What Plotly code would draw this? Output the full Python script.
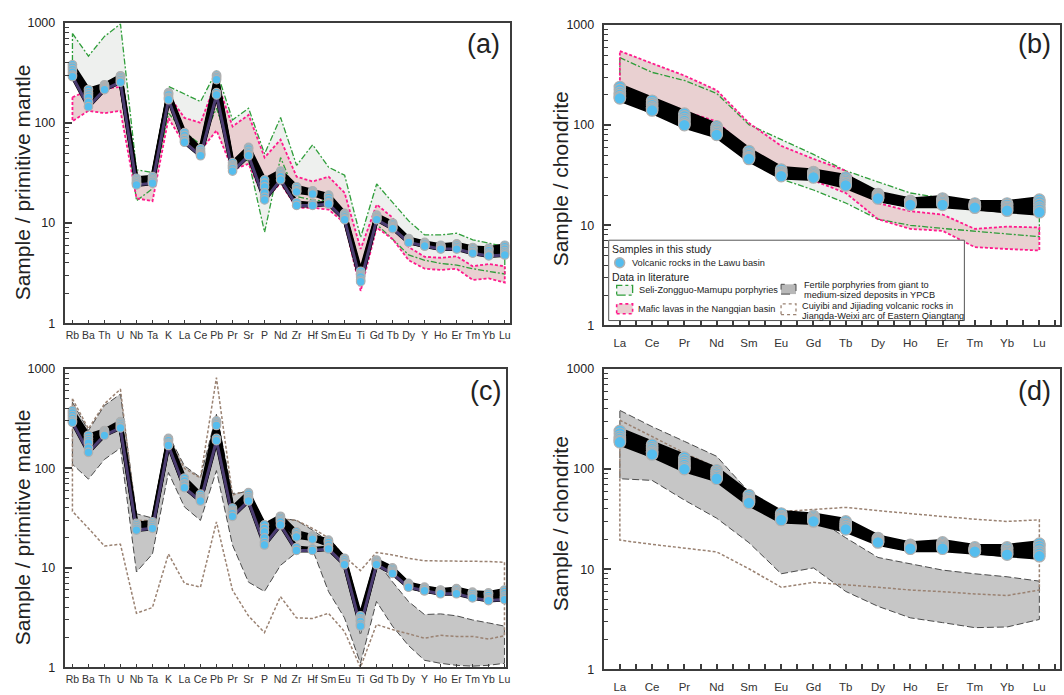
import plotly.graph_objects as go

W, H = 1064, 695
FONT = "Arial, Liberation Sans, sans-serif"

# ---------------- DATA ----------------
spider_elements = ["Rb", "Ba", "Th", "U", "Nb", "Ta", "K", "La", "Ce", "Pb", "Pr", "Sr", "P", "Nd",
                   "Zr", "Hf", "Sm", "Eu", "Ti", "Gd", "Tb", "Dy", "Y", "Ho", "Er", "Tm", "Yb", "Lu"]
ree_elements = ["La", "Ce", "Pr", "Nd", "Sm", "Eu", "Gd", "Tb", "Dy", "Ho", "Er", "Tm", "Yb", "Lu"]

# Samples in this study (primitive-mantle normalised)
pm_sample1 = [380, 215, 240, 295, 28, 29, 200, 80, 55, 300, 40, 57, 27, 33, 23, 21, 19, 12.5, 3.3, 12, 10, 7.0, 6.4, 6.0, 6.2, 5.7, 5.6, 6.0]
pm_sample2 = [360, 200, 235, 290, 27, 28, 195, 75, 52, 290, 38, 55, 25, 32, 22, 20.5, 18.5, 12.2, 3.1, 11.8, 9.8, 6.8, 6.3, 5.9, 6.1, 5.6, 5.5, 5.8]
pm_sample3 = [340, 190, 230, 280, 26, 27, 190, 70, 50, 280, 37, 52, 23, 31, 21, 20, 18, 12, 3.0, 11.5, 9.5, 6.7, 6.2, 5.8, 6.0, 5.5, 5.3, 5.5]
pm_sample4 = [320, 180, 225, 270, 25, 26, 180, 68, 49, 270, 36, 50, 20, 30, 20.5, 19.5, 17, 11.5, 2.9, 11.2, 9.2, 6.6, 6.0, 5.7, 5.8, 5.3, 5.0, 5.2]
pm_sample5 = [300, 160, 220, 260, 25, 26, 175, 65, 48, 200, 35, 48, 18, 29, 16, 15.5, 16, 11, 2.7, 11, 9.0, 6.5, 5.9, 5.6, 5.6, 5.1, 4.8, 5.0]
pm_sample6 = [290, 145, 215, 255, 24, 25, 170, 64, 47, 190, 33, 47, 17, 27, 15, 15, 15.5, 10.8, 2.6, 10.8, 8.8, 6.4, 5.9, 5.5, 5.5, 5.0, 4.7, 4.8]

# Samples in this study (chondrite normalised)
ch_sample1 = [240, 175, 130, 97, 55, 36, 34, 30, 20.5, 17.5, 18.5, 16.5, 16.5, 18]
ch_sample2 = [225, 165, 122, 93, 52, 34, 33, 28.5, 20, 17, 18, 16, 16, 17]
ch_sample3 = [210, 158, 115, 90, 50, 33, 32, 27.5, 19.5, 16.8, 17.5, 15.8, 15.3, 16]
ch_sample4 = [200, 150, 110, 86, 48, 32, 31, 26.5, 19, 16.5, 17, 15.5, 14.8, 15]
ch_sample5 = [190, 145, 104, 83, 47, 31.5, 30.5, 26, 18.8, 16.2, 16.5, 15.2, 14.3, 14.3]
ch_sample6 = [185, 140, 100, 80, 46, 31, 30, 25, 18.5, 16, 16, 15, 14, 13.5]

# Seli-Zongguo-Mamupu porphyries (range)
seli_pm_upper = [780, 464, 729, 970, 34, 32, 231, 195, 163, 331, 107, 140, 49, 113, 37.6, 60.5, 36, 30, 7.2, 24.5, 16, 10.5, 7.6, 7.6, 7.9, 6.8, 6.3, 5.8]
seli_pm_lower = [300, 150, 220, 260, 16.7, 22, 125, 80, 61, 140, 43.6, 42, 8.1, 45, 18.4, 17, 16.5, 10.9, 2.8, 9.7, 6.9, 4.8, 4.25, 3.95, 3.8, 3.5, 3.3, 3.1]
seli_ch_upper = [472, 336, 279, 207, 101, 72, 51, 35, 27, 21, 18.7, 17, 16, 17]
seli_ch_lower = [190, 140, 100, 80, 45, 29, 22.5, 16.7, 11.5, 10, 9.3, 8.6, 8.2, 7.7]

# Mafic lavas in the Nangqian basin (range)
nangqian_pm_upper = [180, 211, 220, 228, 28, 25, 189, 112, 100, 265, 92, 120, 45, 68, 29, 26, 29, 20, 5.5, 15.3, 11.3, 5.75, 4.6, 4.5, 4.65, 3.7, 3.9, 3.7]
nangqian_pm_lower = [104, 132, 125, 132, 17.7, 16.5, 111, 61, 53, 84, 34, 39, 17, 25, 14.2, 14.2, 13.6, 10, 2.1, 9.0, 6.9, 4.25, 3.5, 3.4, 3.5, 2.7, 2.8, 2.55]
nangqian_ch_upper = [548, 415, 312, 223, 105, 62, 46, 35, 16.7, 13.8, 12.8, 9.2, 9.7, 9.5]
nangqian_ch_lower = [249, 178, 137, 109, 55, 35.5, 28, 21, 11.5, 9.2, 8.8, 6.05, 5.8, 5.6]

# Fertile porphyries from giant to medium-sized deposits in YPCB (range)
ypcb_pm_upper = [462, 240, 428, 558, 35, 31.7, 217, 106, 81, 350, 56, 58, 29, 31.6, 30, 24, 18.6, 13.3, 2.1, 11.8, 7.25, 4.6, 3.4, 3.45, 3.3, 3.0, 2.8, 2.6]
ypcb_pm_lower = [110, 78, 123, 160, 9.1, 13.8, 91, 41, 30, 95, 17, 7.2, 5.8, 10.6, 14.3, 15.4, 5.8, 3.15, 1.1, 4.6, 2.6, 1.66, 1.18, 1.1, 1.05, 1.03, 1.05, 1.1]
ypcb_ch_upper = [385, 265, 189, 134, 59, 37.6, 33.6, 20.6, 13.1, 11.3, 9.8, 9.0, 8.4, 7.6]
ypcb_ch_lower = [80, 77, 49, 32.3, 18.4, 9.0, 10.3, 6.0, 4.26, 3.27, 2.93, 2.61, 2.65, 3.15]

# Cuiyibi and Jijiading volcanic rocks, Jiangda-Weixi arc (range)
cuiyibi_pm_upper = [500, 250, 445, 625, 30, 30, 200, 100, 80, 815, 54, 60, 26, 31, 30, 25, 20, 13, 9.4, 14.3, 13.5, 12.5, 11.8, 11.8, 11.8, 11.8, 11.6, 11.4]
cuiyibi_pm_lower = [37, 25, 16.6, 17.3, 3.5, 4.0, 13.8, 7.0, 6.4, 29, 6.0, 3.3, 2.24, 5.15, 3.15, 3.1, 3.5, 2.3, 1.0, 2.7, 2.4, 2.16, 1.97, 2.1, 2.05, 2.05, 1.93, 2.08]
cuiyibi_ch_upper = [307, 211, 145, 103, 53, 37.6, 39.6, 41.4, 38.4, 36.2, 33.6, 31.6, 30, 31.1]
cuiyibi_ch_lower = [19.5, 17.7, 16.2, 14.9, 10.1, 6.6, 7.4, 7.0, 6.6, 6.2, 5.97, 5.66, 5.46, 6.2]

pm_samples = [pm_sample1, pm_sample2, pm_sample3, pm_sample4, pm_sample5, pm_sample6]
ch_samples = [ch_sample1, ch_sample2, ch_sample3, ch_sample4, ch_sample5, ch_sample6]

# ---------------- STYLES ----------------
GREEN = "#2f9e3a"
GREEN_FILL = "#eef0ee"
PINK = "#ff1a8c"
PINK_FILL = "#e9d0d1"
GREY_LINE = "#4a4a4a"
GREY_FILL = "#c6c6c6"
BROWN = "#9a8272"
BLUE = "#55bdee"
MK_EDGE = "#b0b0b0"
PURPLE = "#4b3c70"
AXIS = "#3c3c3c"

fig = go.Figure()


def poly(upper, lower):
    n = len(upper)
    xs = list(range(n)) + list(range(n - 1, -1, -1)) + [0]
    ys = list(upper) + list(reversed(lower)) + [upper[0]]
    return xs, ys


def add_fill(upper, lower, color, ax):
    xs, ys = poly(upper, lower)
    fig.add_trace(go.Scatter(x=xs, y=ys, mode="lines", fill="toself", fillcolor=color,
                             line=dict(width=0), hoverinfo="skip", showlegend=False,
                             xaxis="x" + ax, yaxis="y" + ax))


def add_outline(upper, lower, color, dash, width, ax):
    xs, ys = poly(upper, lower)
    fig.add_trace(go.Scatter(x=xs, y=ys, mode="lines",
                             line=dict(color=color, dash=dash, width=width),
                             hoverinfo="skip", showlegend=False,
                             xaxis="x" + ax, yaxis="y" + ax))


def add_samples(samples, ax, lw, msize, purple):
    for s in samples:
        fig.add_trace(go.Scatter(x=list(range(len(s))), y=s, mode="lines",
                                 line=dict(color="black", width=lw),
                                 hoverinfo="skip", showlegend=False,
                                 xaxis="x" + ax, yaxis="y" + ax))
    if purple:
        s = samples[-1]
        fig.add_trace(go.Scatter(x=list(range(len(s))), y=s, mode="lines",
                                 line=dict(color=PURPLE, width=3),
                                 hoverinfo="skip", showlegend=False,
                                 xaxis="x" + ax, yaxis="y" + ax))
    for s in samples:
        fig.add_trace(go.Scatter(x=list(range(len(s))), y=s, mode="markers",
                                 marker=dict(color=BLUE, size=msize, line=dict(color=MK_EDGE, width=1.2)),
                                 hoverinfo="skip", showlegend=False,
                                 xaxis="x" + ax, yaxis="y" + ax))


DOT = "3px,2px"
DASHDOT = "6px,2px,2px,2px"
LDASH = "7px,3px"

# (a)
add_fill(seli_pm_upper, seli_pm_lower, GREEN_FILL, "")
add_fill(nangqian_pm_upper, nangqian_pm_lower, PINK_FILL, "")
add_outline(seli_pm_upper, seli_pm_lower, GREEN, DASHDOT, 1.3, "")
add_outline(nangqian_pm_upper, nangqian_pm_lower, PINK, DOT, 1.8, "")
add_samples(pm_samples, "", 4, 8.5, True)

# (b)
add_fill(seli_ch_upper, seli_ch_lower, GREEN_FILL, "2")
add_fill(nangqian_ch_upper, nangqian_ch_lower, PINK_FILL, "2")
add_outline(seli_ch_upper, seli_ch_lower, GREEN, DASHDOT, 1.3, "2")
add_outline(nangqian_ch_upper, nangqian_ch_lower, PINK, DOT, 1.8, "2")
add_samples(ch_samples, "2", 7, 11.5, False)

# (c)
add_fill(ypcb_pm_upper, ypcb_pm_lower, GREY_FILL, "3")
add_outline(ypcb_pm_upper, ypcb_pm_lower, GREY_LINE, LDASH, 1.0, "3")
add_outline(cuiyibi_pm_upper, cuiyibi_pm_lower, BROWN, DOT, 1.5, "3")
add_samples(pm_samples, "3", 4, 8.5, True)

# (d)
add_fill(ypcb_ch_upper, ypcb_ch_lower, GREY_FILL, "4")
add_outline(ypcb_ch_upper, ypcb_ch_lower, GREY_LINE, LDASH, 1.0, "4")
add_outline(cuiyibi_ch_upper, cuiyibi_ch_lower, BROWN, DOT, 1.5, "4")
add_samples(ch_samples, "4", 7, 11.5, False)


def px(x):
    return x / W


def py(y):
    return 1 - y / H


minor_log = [v * m for m in (1, 10, 100) for v in range(2, 10)]


def yaxis(dom, anchor):
    return dict(type="log", range=[0, 3], domain=dom, anchor=anchor,
                tickvals=[1, 10, 100, 1000], ticktext=["1", "10", "100", "1000"],
                ticks="inside", ticklen=7, tickwidth=1.5, tickcolor=AXIS,
                minor=dict(tickvals=minor_log, ticks="inside", ticklen=4, tickwidth=1, tickcolor=AXIS),
                showline=True, linecolor=AXIS, linewidth=2, mirror=True,
                showgrid=False, zeroline=False, ticklabelstandoff=5,
                tickfont=dict(family=FONT, size=12.5, color="#222"))


def xaxis_spider(dom, anchor, rng):
    return dict(range=rng, domain=dom, anchor=anchor,
                tickvals=list(range(len(spider_elements))), ticktext=spider_elements,
                ticks="inside", ticklen=3, tickwidth=1, tickcolor=AXIS,
                showline=True, linecolor=AXIS, linewidth=2, mirror=True,
                showgrid=False, zeroline=False, tickangle=0, ticklabelstandoff=1,
                tickfont=dict(family=FONT, size=10.5, color="#333"))


def xaxis_ree(dom, anchor):
    return dict(range=[-0.5, 13.64], domain=dom, anchor=anchor,
                tickvals=list(range(len(ree_elements))), ticktext=ree_elements,
                ticks="inside", ticklen=5, tickwidth=1.5, tickcolor=AXIS,
                minor=dict(tickvals=[i + 0.5 for i in range(-1, 14)], ticks="inside", ticklen=5,
                           tickwidth=1.5, tickcolor=AXIS),
                showline=True, linecolor=AXIS, linewidth=2, mirror=True,
                showgrid=False, zeroline=False, tickangle=0, ticklabelstandoff=6,
                tickfont=dict(family=FONT, size=11.5, color="#333"))


fig.update_layout(
    width=W, height=H, margin=dict(l=0, r=0, t=0, b=0),
    paper_bgcolor="white", plot_bgcolor="rgba(0,0,0,0)", showlegend=False,
    xaxis=xaxis_spider([px(65), px(511.5)], "y", [-0.48, 27.3]),
    yaxis=yaxis([py(322.7), py(16)], "x"),
    xaxis2=xaxis_ree([px(606), 1.0], "y2"),
    yaxis2=yaxis([py(325), py(18.3)], "x2"),
    xaxis3=xaxis_spider([px(65), px(508.3)], "y3", [-0.48, 27.12]),
    yaxis3=yaxis([py(674), py(369.3)], "x3"),
    xaxis4=xaxis_ree([px(606), 1.0], "y4"),
    yaxis4=yaxis([py(676), py(369.3)], "x4"),
)

ann = []
shapes = []


def text(x, y, s, size, anchor="left", angle=0, color="#222"):
    ann.append(dict(x=px(x), y=py(y), xref="paper", yref="paper", text=s, showarrow=False,
                    xanchor=anchor, yanchor="middle", textangle=angle,
                    font=dict(family=FONT, size=size, color=color)))


# axis titles
text(22, 179, "Sample / primitive mantle", 21, "center", -90)
text(563, 175, "Sample / chondrite", 21, "center", -90)
text(22, 531, "Sample / primitive mantle", 21, "center", -90)
text(563, 527, "Sample / chondrite", 21, "center", -90)

# panel labels
text(485, 38, "(a)", 27, "center")
text(1038, 38, "(b)", 27, "center")
text(487, 392, "(c)", 27, "center")
text(1038, 392, "(d)", 27, "center")

# legend box
shapes.append(dict(type="rect", xref="paper", yref="paper", x0=px(611), x1=px(968), y0=py(320), y1=py(238),
                   fillcolor="white", line=dict(color="#555", width=1), layer="above"))
shapes.append(dict(type="circle", xref="paper", yref="paper", x0=px(617), x1=px(627), y0=py(266), y1=py(256),
                   fillcolor=BLUE, line=dict(color=MK_EDGE, width=1.5), layer="above"))
shapes.append(dict(type="rect", xref="paper", yref="paper", x0=px(619), x1=px(635), y0=py(294), y1=py(284),
                   fillcolor=GREEN_FILL, line=dict(color=GREEN, width=1.3, dash="dashdot"), layer="above"))
shapes.append(dict(type="rect", xref="paper", yref="paper", x0=px(619), x1=px(635), y0=py(313), y1=py(303),
                   fillcolor=PINK_FILL, line=dict(color=PINK, width=1.6, dash="dot"), layer="above"))
shapes.append(dict(type="rect", xref="paper", yref="paper", x0=px(784), x1=px(799), y0=py(293), y1=py(283),
                   fillcolor="#b8b8b8", line=dict(color=GREY_LINE, width=1, dash="dash"), layer="above"))
shapes.append(dict(type="rect", xref="paper", yref="paper", x0=px(784), x1=px(799), y0=py(314), y1=py(303),
                   fillcolor="white", line=dict(color=BROWN, width=1.3, dash="dot"), layer="above"))

text(612, 247, "Samples in this study", 10.5)
text(632, 261, "Volcanic rocks in the Lawu basin", 9.2)
text(612, 276, "Data in literature", 10.5)
text(639, 289, "Seli-Zongguo-Mamupu porphyries", 9.2)
text(638, 308, "Mafic lavas in the Nangqian basin", 9.2)
text(805, 284, "Fertile porphyries from giant to", 9.2)
text(805, 294, "medium-sized deposits in YPCB", 9.2)
text(803, 305, "Cuiyibi and Jijiading volcanic rocks in", 9.2)
text(803, 315, "Jiangda-Weixi arc of Eastern Qiangtang", 9.2)

fig.update_layout(annotations=ann, shapes=shapes)
fig.write_html("out.html")
